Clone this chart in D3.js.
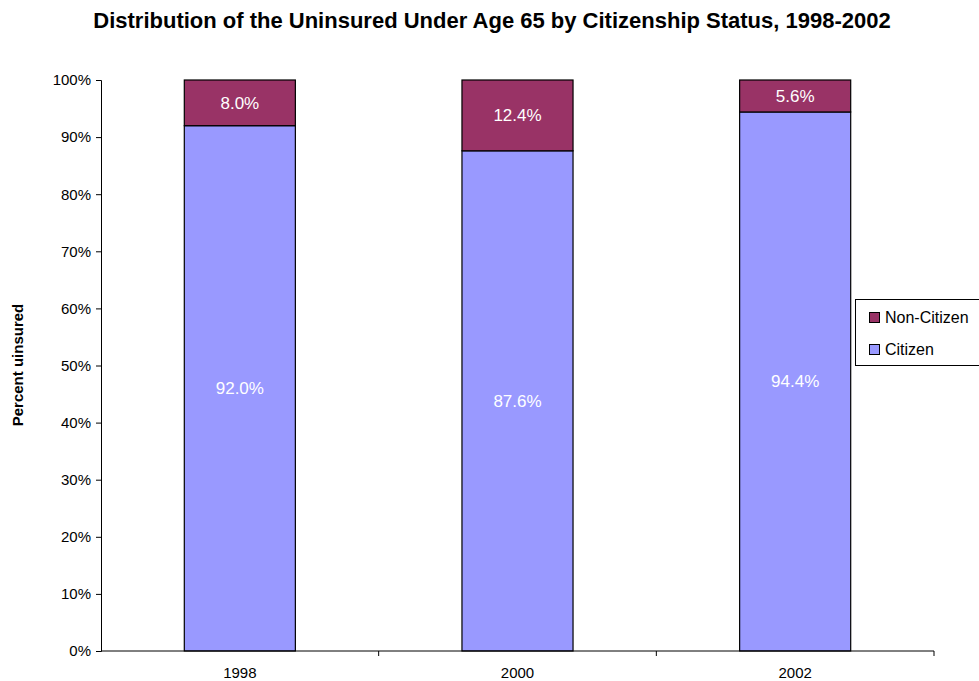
<!DOCTYPE html>
<html>
<head>
<meta charset="utf-8">
<script src="https://cdn.jsdelivr.net/npm/d3@7"></script>
<style>
  html, body { margin: 0; padding: 0; background: #fff; }
  svg { display: block; font-family: "Liberation Sans", Arial, sans-serif; }
</style>
</head>
<body>
<svg id="chart" width="979" height="681"></svg>
<script>
// Uninsured under 65, share by citizenship status
const years = ["1998", "2000", "2002"];
const citizen = [92.0, 87.6, 94.4];
const nonCitizen = [8.0, 12.4, 5.6];
const yTicks = [0, 10, 20, 30, 40, 50, 60, 70, 80, 90, 100];
const seriesNames = ["Citizen", "Non-Citizen"];
const seriesColors = ["#9999FF", "#993366"];

const svg = d3.select("#chart");
const plotLeft = 101, plotRight = 934, plotTop = 80, plotBottom = 651;

const x = d3.scaleBand().domain(years).range([plotLeft, plotRight]).paddingInner(0.6).paddingOuter(0.3);
const xTickScale = d3.scaleLinear().domain([0, years.length]).range([plotLeft, plotRight]);
const y = d3.scaleLinear().domain([0, 100]).range([plotBottom, plotTop]);

// Title
svg.append("text")
  .attr("x", 492).attr("y", 28)
  .attr("text-anchor", "middle")
  .attr("font-size", 22).attr("font-weight", "bold")
  .text("Distribution of the Uninsured Under Age 65 by Citizenship Status, 1998-2002");

// Y axis
const yAxis = d3.axisLeft(y).tickValues(yTicks).tickFormat(d => d + "%").tickSizeOuter(0).tickSize(5);
const gy = svg.append("g").attr("transform", `translate(${plotLeft},0)`).call(yAxis);
gy.select(".domain").attr("stroke", "#000");
gy.selectAll(".tick line").attr("stroke", "#000");
gy.selectAll(".tick text").attr("font-size", 15).attr("fill", "#000")
  .attr("font-family", "Liberation Sans, Arial, sans-serif").attr("x", -10);

// Y axis title
svg.append("text")
  .attr("transform", "translate(23,365) rotate(-90)")
  .attr("text-anchor", "middle")
  .attr("font-size", 15).attr("font-weight", "bold")
  .text("Percent uinsured");

// Stacked bars
const stackData = years.map((yr, i) => ({ year: yr, Citizen: citizen[i], "Non-Citizen": nonCitizen[i] }));
const stacked = d3.stack().keys(seriesNames)(stackData);

stacked.forEach((layer, li) => {
  const g = svg.append("g");
  g.selectAll("rect").data(layer).enter().append("rect")
    .attr("x", d => x(d.data.year))
    .attr("width", x.bandwidth())
    .attr("y", d => y(d[1]))
    .attr("height", d => y(d[0]) - y(d[1]))
    .attr("fill", seriesColors[li])
    .attr("stroke", "#000").attr("stroke-width", 1.2);
  g.selectAll("text").data(layer).enter().append("text")
    .attr("x", d => x(d.data.year) + x.bandwidth() / 2)
    .attr("y", d => (y(d[0]) + y(d[1])) / 2 + 6)
    .attr("text-anchor", "middle")
    .attr("font-size", 17).attr("fill", "#fff")
    .text(d => (d[1] - d[0]).toFixed(1) + "%");
});

// X axis
svg.append("line")
  .attr("x1", plotLeft).attr("x2", plotRight)
  .attr("y1", plotBottom).attr("y2", plotBottom)
  .attr("stroke", "#000");
d3.range(1, years.length + 1).forEach(i => {
  svg.append("line")
    .attr("x1", xTickScale(i)).attr("x2", xTickScale(i))
    .attr("y1", plotBottom).attr("y2", plotBottom + 5)
    .attr("stroke", "#000");
});
svg.selectAll(".xlab").data(years).enter().append("text")
  .attr("x", d => x(d) + x.bandwidth() / 2)
  .attr("y", 678)
  .attr("text-anchor", "middle")
  .attr("font-size", 15)
  .text(d => d);

// Legend
const lg = svg.append("g");
lg.append("rect").attr("x", 855.5).attr("y", 299.5).attr("width", 130).attr("height", 66)
  .attr("fill", "#fff").attr("stroke", "#000");
const legendItems = [
  { name: "Non-Citizen", color: seriesColors[1] },
  { name: "Citizen", color: seriesColors[0] }
];
legendItems.forEach((it, i) => {
  const yy = 312.5 + i * 32;
  lg.append("rect").attr("x", 869.5).attr("y", yy).attr("width", 10).attr("height", 10)
    .attr("fill", it.color).attr("stroke", "#000");
  lg.append("text").attr("x", 885).attr("y", yy + 10.5).attr("font-size", 16).text(it.name);
});
</script>
</body>
</html>
